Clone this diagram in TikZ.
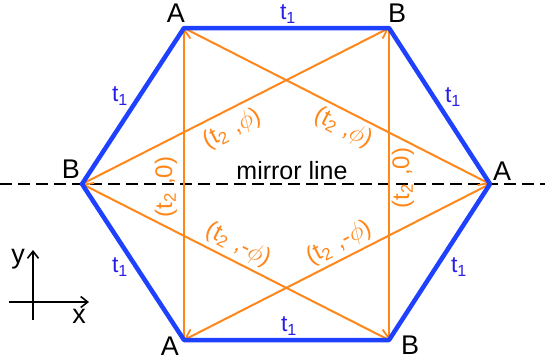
\documentclass[tikz,border=0pt]{standalone}
\usepackage{fontspec}
\setmainfont{Liberation Sans}
\usetikzlibrary{arrows.meta}
\definecolor{hexblue}{RGB}{30,64,255}
\definecolor{lblblue}{RGB}{40,30,230}
\definecolor{nnnorange}{RGB}{255,135,25}
\tikzset{
  bond/.style={hexblue,line width=4.5pt,line join=round},
  nnn/.style={nnnorange,line width=2pt,-{Straight Barb[length=9pt,width=13pt,line width=1.8pt]}},
  site/.style={font=\fontsize{27}{30}\selectfont,text=black,inner sep=0pt},
  tone/.style={font=\fontsize{23}{26}\selectfont,text=lblblue,inner sep=0pt},
  ttwo/.style={font=\fontsize{24}{27}\selectfont,text=nnnorange,inner sep=0pt},
  mirror/.style={black,line width=1.5pt,dash pattern=on 12pt off 6pt},
  axis/.style={black,line width=1.6pt,-{Straight Barb[length=7pt,width=11pt,line width=1.6pt]}}
}
\newcommand{\ttwolab}[1]{(t\textsubscript{2}\,\,,#1)}
\begin{document}
\begin{tikzpicture}[x=1pt,y=-1pt]
\useasboundingbox (0,0) rectangle (545,360);
% lattice sites
\coordinate (A1) at (184,28);
\coordinate (B1) at (389,28);
\coordinate (A2) at (490,184);
\coordinate (B2) at (389,340);
\coordinate (A3) at (184,340);
\coordinate (B3) at (82,184);
% mirror line
\coordinate (ML) at (0,184);
\coordinate (MR) at (545,184);
\draw[mirror] (ML) -- (MR);
% next-nearest-neighbour hoppings
\draw[nnn] (A3) -- (A1);
\draw[nnn] (A1) -- (A2);
\draw[nnn] (A2) -- (A3);
\draw[nnn] (B3) -- (B1);
\draw[nnn] (B1) -- (B2);
\draw[nnn] (B2) -- (B3);
% hexagon
\draw[bond] (A1) -- (B1) -- (A2) -- (B2) -- (A3) -- (B3) -- cycle;
% site labels
\node[site] (lA1) at (176,13) {A};
\node[site] (lB1) at (397,13) {B};
\node[site] (lA2) at (502,171) {A};
\node[site] (lB2) at (410,345) {B};
\node[site] (lA3) at (170,346) {A};
\node[site] (lB3) at (71,169) {B};
% t1 labels
\node[tone] (t1a) at (288,14) {t\textsubscript{1}};
\node[tone] (t1b) at (289,326) {t\textsubscript{1}};
\node[tone] (t1c) at (120,96) {t\textsubscript{1}};
\node[tone] (t1d) at (120,267) {t\textsubscript{1}};
\node[tone] (t1e) at (453,97) {t\textsubscript{1}};
\node[tone] (t1f) at (459,267) {t\textsubscript{1}};
% t2 labels
\node[ttwo,rotate=27] (t2a) at (232,129) {\ttwolab{$\phi$}};
\node[ttwo,rotate=-27] (t2b) at (343,128) {\ttwolab{$\phi$}};
\node[ttwo,rotate=-27] (t2c) at (238,245) {\ttwolab{-$\phi$}};
\node[ttwo,rotate=27] (t2d) at (339,243) {\ttwolab{-$\phi$}};
\node[ttwo,rotate=90] (t2e) at (166,187) {\ttwolab{0}};
\node[ttwo,rotate=90] (t2f) at (403,178) {\ttwolab{0}};
% mirror line label
\node[font=\fontsize{25}{28}\selectfont,inner sep=0pt] (mtext) at (292,171) {mirror line};
% axes
\coordinate (yS) at (33,320);
\coordinate (yE) at (33,250);
\coordinate (xS) at (9,302);
\coordinate (xE) at (89,302);
\draw[axis] (yS) -- (yE);
\draw[axis] (xS) -- (xE);
\node[site] (ylab) at (18,259) {y};
\node[site] (xlab) at (79,316) {x};
\end{tikzpicture}
\end{document}
